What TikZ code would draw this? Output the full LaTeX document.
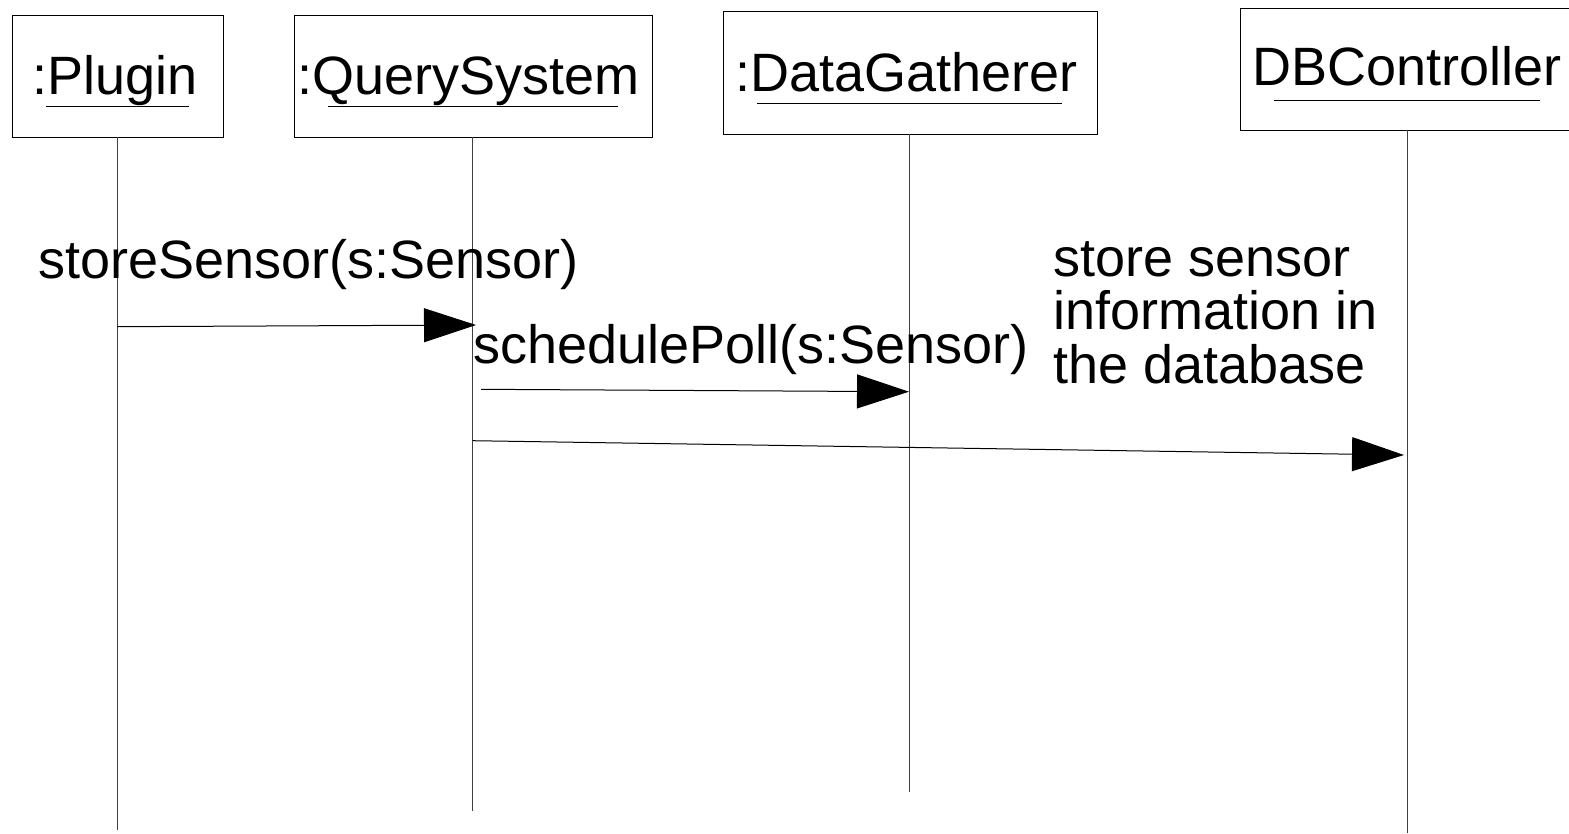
\documentclass[tikz,border=0pt]{standalone}
\usepackage{fontspec}
\setmainfont{Liberation Sans}
\usetikzlibrary{arrows.meta}
\begin{document}
\begin{tikzpicture}[x=1pt,y=-1pt,
  objbox/.style={draw=black, line width=1pt, rectangle, inner sep=0pt},
  lbl/.style={inner sep=0pt, anchor=base west, font=\fontsize{54}{53.3}\selectfont},
  uline/.style={line width=1pt},
  lifeline/.style={line width=1pt, draw=black!75},
  msg/.style={line width=1pt, -{Triangle[length=52pt,width=34pt]}}]
\useasboundingbox[fill=white] (0,0) rectangle (1569,833);
% objects
\node[objbox, minimum width=211pt, minimum height=122pt] (plugin) at (117.5,76) {};
\node[objbox, minimum width=358pt, minimum height=122pt] (query) at (473,76) {};
\node[objbox, minimum width=374pt, minimum height=123pt] (gather) at (910,72.5) {};
\node[objbox, minimum width=340pt, minimum height=122pt] (dbc) at (1410,69) {};
% names
\node[lbl] (tplugin) at (32,94) {:Plugin};
\node[lbl] (tquery) at (297,94) {:QuerySystem};
\node[lbl] (tgather) at (735,91) {:DataGatherer};
\node[lbl] (tdbc) at (1252,85) {DBController};
\draw[uline] (46,106) coordinate (u1a) -- (189,106) coordinate (u1b);
\draw[uline] (328,106) coordinate (u2a) -- (618,106) coordinate (u2b);
\draw[uline] (757,103) coordinate (u3a) -- (1062,103) coordinate (u3b);
\draw[uline] (1274,100) coordinate (u4a) -- (1540,100) coordinate (u4b);
% lifelines
\coordinate (lp0) at (117,137); \coordinate (lp1) at (117,830);
\coordinate (lq0) at (472.7,137); \coordinate (lq1) at (472.7,811);
\coordinate (lg0) at (909,134); \coordinate (lg1) at (909,792);
\coordinate (ld0) at (1407,130); \coordinate (ld1) at (1407,833);
\draw[lifeline] (lp0) -- (lp1);
\draw[lifeline] (lq0) -- (lq1);
\draw[lifeline] (lg0) -- (lg1);
\draw[lifeline] (ld0) -- (ld1);
% messages
\coordinate (m1a) at (117,326.7); \coordinate (m1b) at (476,325);
\coordinate (m2a) at (481,389.3); \coordinate (m2b) at (909,391.7);
\coordinate (m3a) at (472.7,440.7); \coordinate (m3b) at (1404,455);
\draw[msg] (m1a) -- (m1b);
\draw[msg] (m2a) -- (m2b);
\draw[msg] (m3a) -- (m3b);
% labels
\node[lbl] (l1) at (38,278) {storeSensor(s:Sensor)};
\node[lbl] (l2) at (473,363) {schedulePoll(s:Sensor)};
\node[lbl, align=left] (note) at (1053,383) {store sensor\\information in\\the database};
\end{tikzpicture}
\end{document}
